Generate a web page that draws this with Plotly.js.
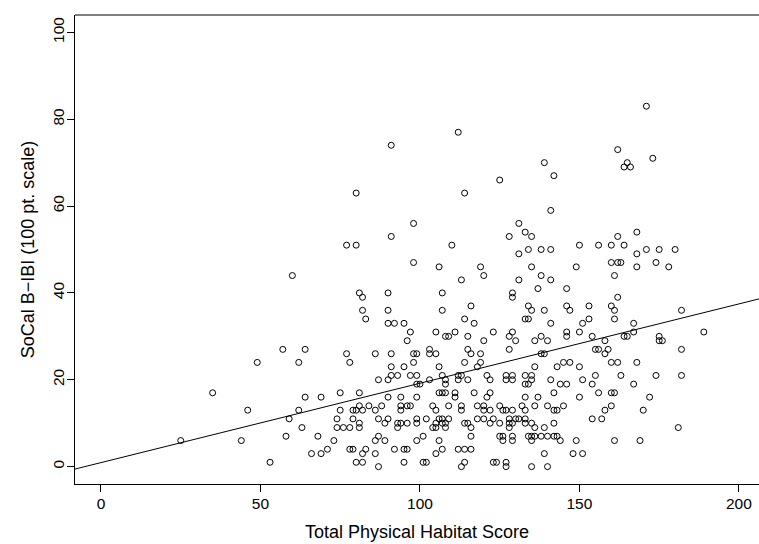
<!DOCTYPE html>
<html>
<head>
<meta charset="utf-8">
<script src="https://cdn.plot.ly/plotly-3.0.1.min.js"></script>
<style>html,body{margin:0;padding:0;background:#fff;}#chart{width:759px;height:544px;}</style>
</head>
<body>
<div id="chart"></div>
<script>
// Total Physical Habitat Score (x) and SoCal B-IBI (y)
const habitatScore = [
91,80,98,91,77,80,110,98,106,60,81,82,90,107,82,90,107,83,90,92,95,
171,112,162,173,165,164,166,139,142,125,114,141,131,133,135,128,162,168,150,156,160,164,131,134,138,141,168,171,175,180,
119,120,135,149,160,162,163,168,174,178,113,131,138,141,161,129,129,137,146,162,116,134,135,139,146,147,153,160,161,182,
114,117,133,134,141,151,153,161,167,
57,49,62,35,
97,105,96,64,77,86,91,98,99,103,103,105,78,91,95,98,106,87,90,91,93,97,99,99,100,103,107,64,69,75,81,90,94,99,106,
111,109,108,115,123,128,129,130,120,136,138,140,146,146,150,115,116,119,128,114,119,118,138,139,136,143,145,147,
108,108,112,113,112,115,121,122,127,129,127,129,133,135,135,133,134,141,144,146,107,108,111,111,117,122,121,133,137,142,150,
154,158,164,165,167,175,175,176,189,155,156,159,158,182,160,162,168,150,151,155,163,174,182,154,167,156,160,161,172,
46,59,25,44,58,53,
62,75,79,80,81,82,84,86,88,94,94,96,97,104,105,74,79,81,81,87,90,89,93,94,93,96,99,99,102,105,106,104,105,
63,74,76,78,68,73,87,86,89,99,101,106,66,69,71,78,79,83,82,86,92,95,96,105,107,80,82,87,95,101,102,
109,113,118,120,125,132,136,140,145,
113,120,122,126,127,129,133,142,143,
107,109,118,120,123,128,130,131,133,
107,108,114,115,122,125,128,129,133,135,142,
108,116,128,136,139,
116,125,126,129,134,135,136,138,140,142,143,
126,129,135,144,149,
112,114,116,
139,148,
114,123,124,127,
113,127,135,140,
160,158,170,154,157,181,161,169,151
];
const ibiScore = [
74,63,56,53,51,51,51,47,46,44,40,39,40,40,36,36,36,34,33,33,33,
83,77,73,71,70,69,69,70,67,66,63,59,56,54,53,53,53,54,51,51,51,51,49,50,50,50,49,50,50,50,
46,44,46,46,47,47,47,46,47,46,43,43,44,43,44,40,39,41,41,39,37,37,36,36,37,36,37,37,36,36,
34,33,34,34,33,33,34,34,33,
27,24,24,17,
31,31,29,27,26,26,26,26,26,27,26,26,24,23,23,24,23,20,20,21,21,21,21,19,19,20,21,16,16,17,17,16,16,16,17,
31,30,30,30,31,30,31,29,29,29,30,29,31,30,31,27,26,26,27,24,24,23,26,26,23,23,24,24,
20,19,21,21,20,20,21,20,21,21,20,20,21,21,20,19,19,20,19,19,17,17,17,16,17,17,16,16,16,17,16,
30,29,30,30,31,30,29,29,31,27,27,27,26,27,24,24,24,23,20,21,21,21,21,19,19,17,17,17,16,
13,11,6,6,7,1,
13,13,13,13,14,13,14,13,14,14,13,14,14,14,13,11,11,10,9,11,11,10,10,10,9,10,11,10,11,10,11,9,9,
9,9,9,9,7,6,7,6,6,6,7,6,3,3,4,4,4,4,3,3,4,4,4,3,4,1,1,0,1,1,1,
14,14,14,14,14,14,14,14,14,
13,13,13,13,13,13,13,13,13,
11,11,11,11,11,11,11,11,11,
10,10,10,10,10,10,10,10,10,10,10,
9,9,9,9,9,
7,7,7,7,7,7,7,7,7,7,7,
6,6,6,6,6,
4,4,4,
3,3,
1,1,1,1,
0,0,0,0,
14,13,13,11,11,9,6,6,3
];
// fitted straight line (two ends)
const fitX = [-10, 210];
const fitY = [-0.9, 39.3];
const xTicks = [0, 50, 100, 150, 200];
const yTicks = [0, 20, 40, 60, 80, 100];

const FONT = 'Liberation Sans, Arial, Helvetica, sans-serif';

const traces = [
  {
    type: 'scatter', mode: 'markers', x: habitatScore, y: ibiScore,
    marker: {symbol: 'circle-open', size: 6, color: '#000', line: {width: 1, color: '#000'}},
    hoverinfo: 'x+y', showlegend: false
  },
  {
    type: 'scatter', mode: 'lines', x: fitX, y: fitY,
    line: {color: '#000', width: 1}, hoverinfo: 'skip', showlegend: false
  }
];

const axisCommon = {
  showgrid: false, zeroline: false, showline: true, linecolor: '#000', linewidth: 1,
  ticks: 'outside', ticklen: 7, tickwidth: 1, tickcolor: '#000',
  tickfont: {family: FONT, size: 15.5, color: '#000'}
};

const layout = {
  width: 759, height: 544,
  margin: {l: 75, r: 0, t: 15, b: 60, pad: 0},
  paper_bgcolor: '#fff', plot_bgcolor: '#fff',
  font: {family: FONT, color: '#000'},
  xaxis: Object.assign({}, axisCommon, {
    range: [-8.15, 206.3], tickmode: 'array', tickvals: xTicks, ticktext: xTicks.map(String),
    ticklabelstandoff: -2,
    title: {text: 'Total Physical Habitat Score', font: {family: FONT, size: 18, color: '#000'}, standoff: 14}
  }),
  yaxis: Object.assign({}, axisCommon, {
    range: [-4, 104], tickmode: 'array', tickvals: yTicks, ticktext: yTicks.map(String), tickangle: -90,
    ticklabelstandoff: -3,
    title: {text: 'SoCal B\u2212IBI (100 pt. scale)', font: {family: FONT, size: 18, color: '#000'}, standoff: 10}
  }),
  shapes: [
    {type: 'line', xref: 'paper', yref: 'paper', x0: 0, x1: 1, y0: 1, y1: 1, line: {color: '#000', width: 1}}
  ]
};

Plotly.newPlot('chart', traces, layout, {displayModeBar: false, staticPlot: true});
</script>
</body>
</html>
